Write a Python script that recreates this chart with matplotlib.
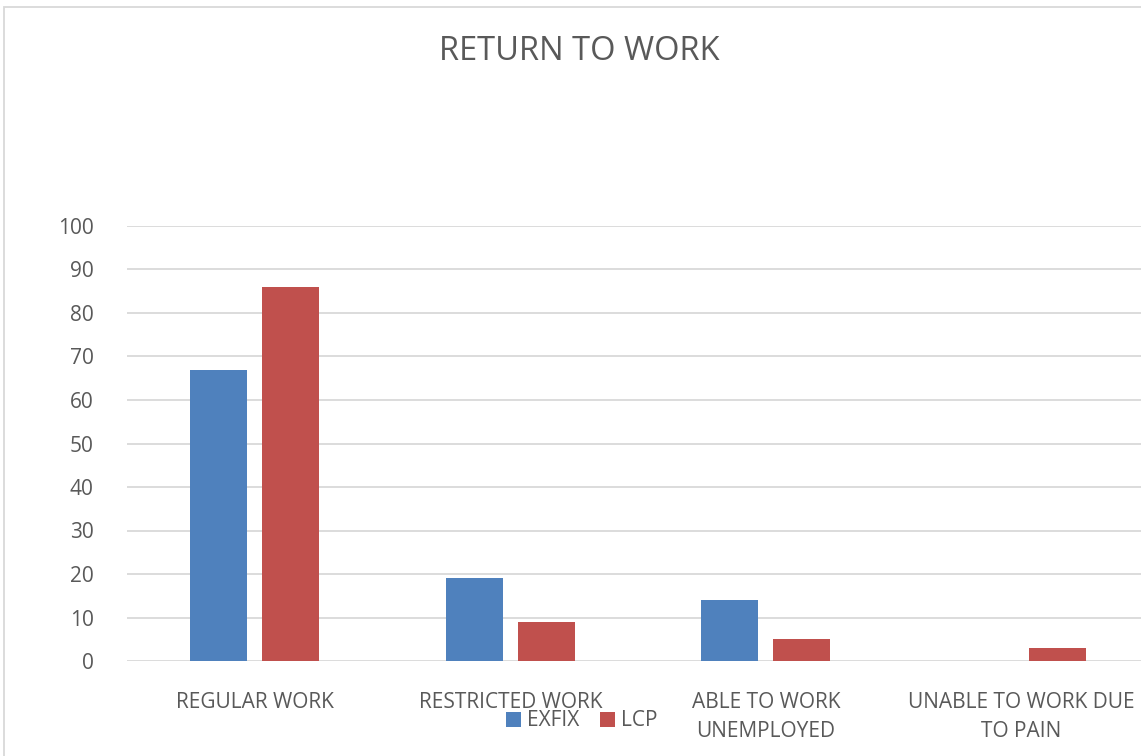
import matplotlib.pyplot as plt
import numpy as np
from matplotlib.patches import Rectangle

categories = ["REGULAR WORK", "RESTRICTED WORK", "ABLE TO WORK\nUNEMPLOYED", "UNABLE TO WORK DUE\nTO PAIN"]
exfix = [67, 19, 14, 0]
lcp = [86, 9, 5, 3]
yticks = list(range(0, 101, 10))

BLUE = "#4F81BD"
RED = "#C0504D"
GRID = "#D9D9D9"
TEXT = "#595959"

W, H = 1141, 756
fig = plt.figure(figsize=(W / 100, H / 100), dpi=100)

# outer chart border (right and bottom run off the canvas)
fig.patches.append(Rectangle((4 / W, -0.1), 1.2, (H - 7) / H + 0.1, transform=fig.transFigure,
                             fill=False, edgecolor=GRID, linewidth=1.3))

# plot area: 4 categories of ~255 px starting at x=127
left, right = 127, 127 + 4 * 255.5
bottom, top = 661, 226
ax = fig.add_axes([left / W, (H - bottom) / H, (right - left) / W, (bottom - top) / H])

x = np.arange(len(categories))
width = 0.223
off = 0.141
ax.bar(x - off, exfix, width, color=BLUE, label="EXFIX", zorder=3)
ax.bar(x + off, lcp, width, color=RED, label="LCP", zorder=3)

ax.set_xlim(-0.5, len(categories) - 0.5)
ax.set_ylim(0, 100)
ax.set_yticks(yticks)
ax.yaxis.grid(True, color=GRID, linewidth=1.3, zorder=0)
for s in ax.spines.values():
    s.set_visible(False)
ax.tick_params(axis="both", length=0, colors=TEXT, labelsize=15)
ax.tick_params(axis="y", pad=24)
ax.set_xticks(x)
ax.set_xticklabels(categories, linespacing=1.5, fontfamily="Open Sans")
ax.tick_params(axis="x", pad=22)
for lbl in ax.get_yticklabels():
    lbl.set_fontfamily("Open Sans")

fig.text(579 / W, 1 - 52 / H, "RETURN TO WORK", ha="center", va="center",
         fontsize=23.5, color=TEXT, fontfamily=["Liberation Sans Narrow", "Open Sans"])

leg = fig.legend(loc="center", bbox_to_anchor=(582 / W, 1 - 721 / H), ncol=2, frameon=False,
                 handlelength=0.7, handleheight=0.7, handletextpad=0.3, columnspacing=1.0,
                 prop={"family": "Open Sans", "size": 15})
for t in leg.get_texts():
    t.set_color(TEXT)

fig.savefig("out.png", dpi=100)
